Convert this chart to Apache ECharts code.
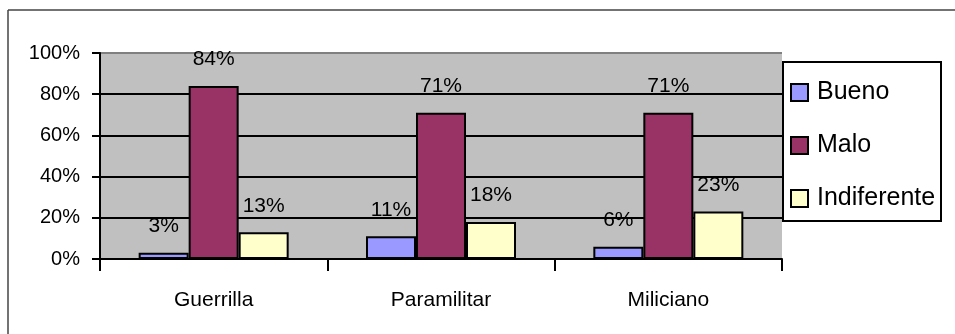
<!DOCTYPE html>
<html>
<head>
<meta charset="utf-8">
<script src="https://cdn.jsdelivr.net/npm/echarts@6/dist/echarts.min.js"></script>
<style>
  html, body { margin: 0; padding: 0; background: #fff; }
  #chart { width: 955px; height: 334px; }
</style>
</head>
<body>
<div id="chart"></div>
<script>
// Opinion by group (percent)
const categories = ['Guerrilla', 'Paramilitar', 'Miliciano'];
const bueno = [3, 11, 6];
const malo = [84, 71, 71];
const indiferente = [13, 18, 23];
const seriesNames = ['Bueno', 'Malo', 'Indiferente'];
const seriesColors = ['#9999ff', '#993366', '#ffffcc'];

const FONT = '"Liberation Sans", Arial, sans-serif';

const chart = echarts.init(document.getElementById('chart'), null, { renderer: 'canvas' });

function barSeries(name, data, color) {
  return {
    name: name,
    type: 'bar',
    data: data,
    barWidth: 50,
    barGap: '0%',
    itemStyle: { color: color, borderColor: '#000', borderWidth: 2 },
    label: {
      show: true,
      position: 'top',
      distance: 16,
      formatter: '{c}%',
      color: '#000',
      fontFamily: FONT,
      fontSize: 21
    }
  };
}

chart.setOption({
  animation: false,
  backgroundColor: '#fff',
  grid: {
    left: 100, top: 53, width: 682, height: 206,
    show: true, backgroundColor: '#c0c0c0', borderWidth: 0
  },
  graphic: [
    // outer frame (top and left edges)
    { type: 'line', shape: { x1: 8, y1: 10, x2: 955, y2: 10 }, style: { stroke: '#444', lineWidth: 1.5 }, z: 10 },
    { type: 'line', shape: { x1: 8, y1: 10, x2: 8, y2: 334 }, style: { stroke: '#444', lineWidth: 1.5 }, z: 10 },
    // legend box
    { type: 'rect', shape: { x: 783, y: 62, width: 158, height: 159 },
      style: { fill: '#fff', stroke: '#000', lineWidth: 2 }, z: 20 }
  ],
  legend: {
    orient: 'vertical',
    left: 790,
    top: 80,
    icon: 'rect',
    itemWidth: 17,
    itemHeight: 17,
    itemGap: 28,
    padding: 0,
    z: 30,
    data: seriesNames,
    textStyle: { fontFamily: FONT, fontSize: 25, color: '#000', lineHeight: 25, padding: [0, 0, 0, 4] }
  },
  xAxis: {
    type: 'category',
    data: categories,
    axisLine: { lineStyle: { color: '#000', width: 2 } },
    axisTick: { show: true, length: 12, interval: 0, lineStyle: { color: '#000', width: 2 } },
    axisLabel: { margin: 31, color: '#000', fontFamily: FONT, fontSize: 21 },
    splitLine: { show: false }
  },
  yAxis: {
    type: 'value',
    min: 0, max: 100, interval: 20,
    axisLine: { show: true, lineStyle: { color: '#000', width: 2 } },
    axisTick: { show: true, length: 8, lineStyle: { color: '#000', width: 2 } },
    axisLabel: { formatter: '{value}%', margin: 20, color: '#000', fontFamily: FONT, fontSize: 20 },
    splitLine: { show: true, lineStyle: { color: ['#000', '#000', '#000', '#000', '#000', '#808080'], width: 2 } }
  },
  series: [
    barSeries(seriesNames[0], bueno, seriesColors[0]),
    barSeries(seriesNames[1], malo, seriesColors[1]),
    barSeries(seriesNames[2], indiferente, seriesColors[2])
  ]
});
</script>
</body>
</html>
